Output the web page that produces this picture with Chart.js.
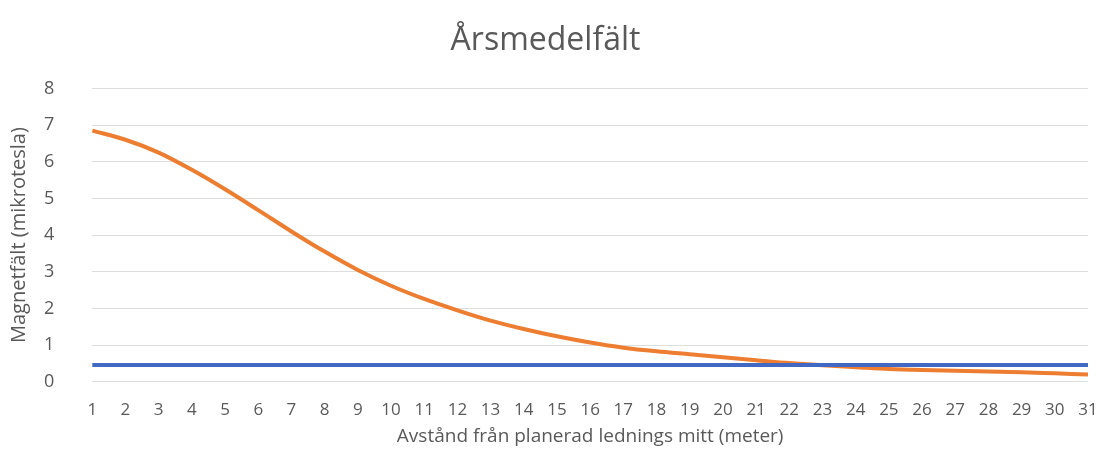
<!DOCTYPE html>
<html>
<head>
<meta charset="utf-8">
<script src="https://cdn.jsdelivr.net/npm/chart.js@4/dist/chart.umd.min.js"></script>
<style>
html,body{margin:0;padding:0;background:#fff;}
#wrap{width:1103px;height:458px;position:relative;}
</style>
</head>
<body>
<div id="wrap"><canvas id="c" width="1103" height="458"></canvas></div>
<script>
const categories = ['1','2','3','4','5','6','7','8','9','10','11','12','13','14','15','16','17','18','19','20','21','22','23','24','25','26','27','28','29','30','31'];
const fieldValues = [6.85, 6.6, 6.25, 5.78, 5.25, 4.68, 4.1, 3.55, 3.05, 2.62, 2.26, 1.95, 1.67, 1.44, 1.24, 1.07, 0.93, 0.83, 0.75, 0.67, 0.59, 0.51, 0.45, 0.4, 0.35, 0.32, 0.3, 0.28, 0.26, 0.23, 0.2];
const limitValues = [0.46,0.46,0.46,0.46,0.46,0.46,0.46,0.46,0.46,0.46,0.46,0.46,0.46,0.46,0.46,0.46,0.46,0.46,0.46,0.46,0.46,0.46,0.46,0.46,0.46,0.46,0.46,0.46,0.46,0.46,0.46];
const yTicks = [0,1,2,3,4,5,6,7,8];

new Chart(document.getElementById('c'), {
  type: 'line',
  data: {
    labels: categories,
    datasets: [
      {label: 'Årsmedelfält', data: fieldValues, borderColor: '#ED7D31', borderWidth: 4, pointRadius: 0, cubicInterpolationMode: 'monotone', fill: false, order: 2},
      {label: 'Referens', data: limitValues, borderColor: '#4169C4', borderWidth: 4, pointRadius: 0, fill: false, order: 1}
    ]
  },
  options: {
    responsive: false,
    animation: false,
    layout: {padding: {left: 3, right: 15, top: 22, bottom: 10}},
    plugins: {
      legend: {display: false},
      tooltip: {enabled: false},
      title: {display: true, text: 'Årsmedelfält', color: '#595959', font: {family: "'Open Sans', sans-serif", size: 32, weight: 'normal'}, padding: {top: 0, bottom: 28}}
    },
    scales: {
      x: {
        offset: false,
        grid: {display: false},
        border: {display: false},
        afterFit: (s) => { s.paddingRight = 0; },
        ticks: {color: '#595959', font: {family: "'Open Sans', sans-serif", size: 17}, padding: 10, maxRotation: 0, autoSkip: false},
        title: {display: true, text: 'Avstånd från planerad lednings mitt (meter)', color: '#595959', font: {family: "'Open Sans', sans-serif", size: 19}, padding: {top: -5, bottom: 0}}
      },
      y: {
        min: 0, max: 8,
        afterBuildTicks: (s) => { s.ticks = yTicks.map(v => ({value: v})); },
        grid: {color: '#dedede', lineWidth: 1, drawTicks: false},
        border: {display: false},
        ticks: {color: '#595959', font: {family: "'Open Sans', sans-serif", size: 18}, padding: 38},
        title: {display: true, text: 'Magnetfält (mikrotesla)', color: '#595959', font: {family: "'Open Sans', sans-serif", size: 20}, padding: {top: 4, bottom: -25}}
      }
    }
  }
});
</script>
</body>
</html>
